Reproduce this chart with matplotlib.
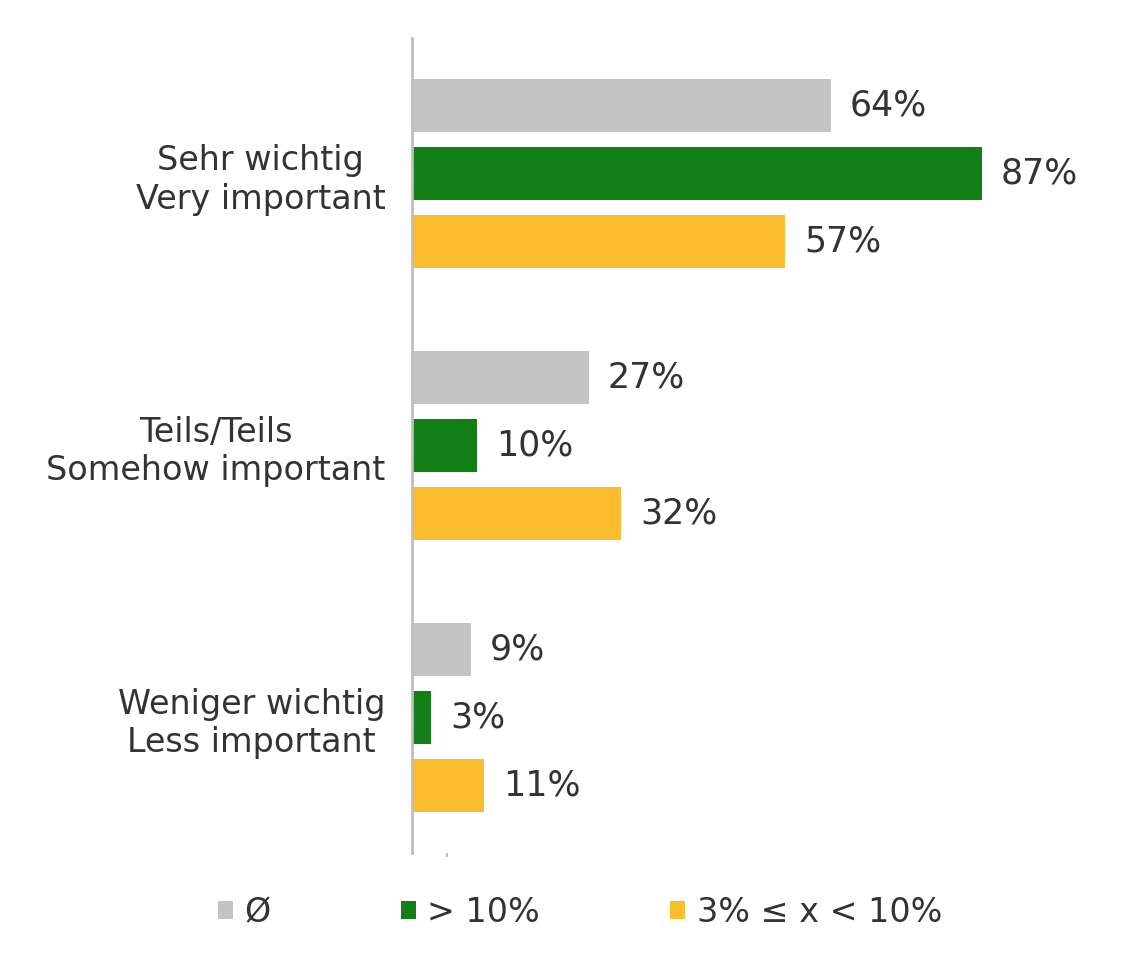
import matplotlib.pyplot as plt
from matplotlib.patches import Patch

# data
categories = ["Sehr wichtig\nVery important", "Teils/Teils\nSomehow important", "Weniger wichtig\nLess important"]
series_names = ["Ø", "> 10%", "3% ≤ x < 10%"]
avg_vals = [64, 27, 9]
high_vals = [87, 10, 3]
mid_vals = [57, 32, 11]

colors = ["#c3c3c3", "#127f17", "#fbbd2d"]
text_col = "#333333"

plt.rcParams['font.family'] = ['DejaVu Sans']

fig = plt.figure(figsize=(11.44, 9.68), dpi=100)
ax = fig.add_axes([0.360, 0.1188, 0.5726, 0.8419])

series = [avg_vals, high_vals, mid_vals]
for s, (vals, col) in enumerate(zip(series, colors)):
    ys = [g * 4 + s for g in range(len(categories))]
    ax.barh(ys, vals, height=0.78, color=col, zorder=2)
    for y, v in zip(ys, vals):
        ax.text(v + 2.9, y, f"{v}%", va="center", ha="left",
                fontsize=25, color=text_col)

ax.set_xlim(0, 100)
ax.set_ylim(11, -1)

ax.set_yticks([g * 4 + 1 for g in range(len(categories))])
ax.set_yticklabels(categories, fontsize=24, color=text_col, multialignment="center",
                   linespacing=1.2)
ax.tick_params(axis="y", length=0, pad=19)
ax.set_xticks([5.3])
ax.set_xticklabels([""])
ax.tick_params(axis="x", length=3, color="#bdbdbd", width=1.5, pad=0)

for side in ["top", "right", "bottom"]:
    ax.spines[side].set_visible(False)
ax.spines["left"].set_color("#bdbdbd")
ax.spines["left"].set_linewidth(2)

handles = [Patch(facecolor=c, edgecolor="none") for c in colors]
fig.legend(handles, series_names, loc="center", bbox_to_anchor=(0.507, 0.057),
           ncol=3, frameon=False, fontsize=24, handlelength=0.45, handleheight=0.45,
           handletextpad=0.35, columnspacing=3.9, labelcolor=text_col)

fig.savefig("out.png", dpi=100, facecolor="white")
